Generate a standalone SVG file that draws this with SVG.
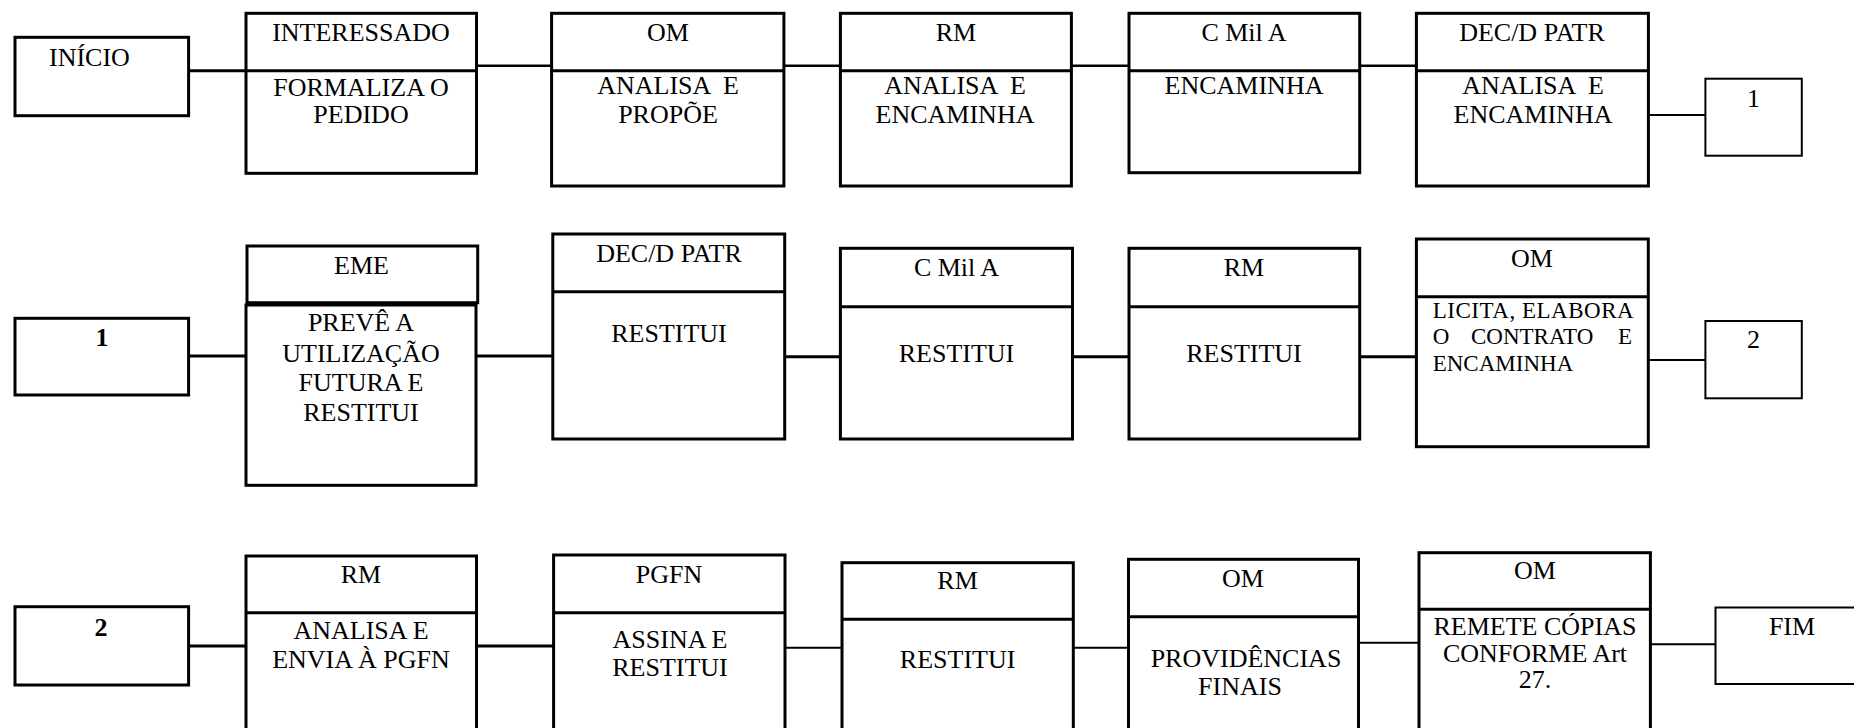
<svg xmlns="http://www.w3.org/2000/svg" width="1854" height="728" viewBox="0 0 1854 728">
<style>
.box{fill:#fff;stroke:#000;stroke-width:3;stroke-linejoin:miter}
.thin{stroke-width:2}
.div{stroke:#000;stroke-width:3;fill:none}
.t{font-family:"Liberation Serif","Times New Roman",serif;font-size:26px;text-anchor:middle;fill:#000;white-space:pre}
.s{font-size:23px;text-anchor:start}
.b{font-weight:bold}
.c path{stroke:#000;fill:none;stroke-width:3}
.c path.n{stroke-width:2}
</style>
<rect width="1854" height="728" fill="#fff"/>
<g class="c" id="connectors">
<path d="M188.6 70.7H246"/>
<path d="M476.5 65.7H551.6" style="stroke-width:2.5"/>
<path d="M783.9 65.7H840.4" style="stroke-width:2.5"/>
<path d="M1071.3 65.7H1129" style="stroke-width:2.5"/>
<path d="M1359.7 65.7H1416.4" style="stroke-width:2.5"/>
<path class="n" d="M1648.3 115H1705.4"/>
<path d="M188.6 356H246"/>
<path d="M477 356H552.8"/>
<path d="M784.7 356.7H840.4"/>
<path d="M1072.5 356.7H1129"/>
<path d="M1359.7 356.7H1416.4"/>
<path class="n" d="M1648.3 360H1705.4"/>
<path d="M188.6 646H246"/>
<path d="M476.5 646H553.6"/>
<path class="n" d="M785 647.7H842"/>
<path class="n" d="M1073.3 647.7H1128.5"/>
<path class="n" d="M1358.5 642.7H1419"/>
<path class="n" d="M1650.4 644.3H1715.5"/>
</g>
<g id="inicio"><rect class="box" x="15" y="37.3" width="173.6" height="78.4"/><text class="t" x="49" y="65.7" style="text-anchor:start">INÍCIO</text></g>
<g id="interessado"><rect class="box" x="246" y="13.3" width="230.5" height="160"/><path class="div" d="M246 70.7H476.5"/>
<text class="t" x="361" y="41">INTERESSADO</text><text class="t" x="361" y="95.7">FORMALIZA O</text><text class="t" x="361" y="123.3">PEDIDO</text></g>
<g id="om1"><rect class="box" x="551.6" y="13.3" width="232.3" height="172.7"/><path class="div" d="M551.6 70.7H783.9"/>
<text class="t" x="668" y="41">OM</text><text class="t" x="668" y="94.3">ANALISA  E</text><text class="t" x="668" y="123.3">PROPÕE</text></g>
<g id="rm1"><rect class="box" x="840.4" y="13.3" width="231" height="172.7"/><path class="div" d="M840.4 70.7H1071.4"/>
<text class="t" x="956" y="41">RM</text><text class="t" x="955" y="94.3">ANALISA  E</text><text class="t" x="955" y="123.3">ENCAMINHA</text></g>
<g id="cmila1"><rect class="box" x="1129" y="13.3" width="230.7" height="159.4"/><path class="div" d="M1129 70.7H1359.7"/>
<text class="t" x="1244" y="41">C Mil A</text><text class="t" x="1244" y="94.3">ENCAMINHA</text></g>
<g id="dec1"><rect class="box" x="1416.4" y="13.3" width="232" height="172.7"/><path class="div" d="M1416.4 70.7H1648.4"/>
<text class="t" x="1532" y="41">DEC/D PATR</text><text class="t" x="1533" y="94.3">ANALISA  E</text><text class="t" x="1533" y="123.3">ENCAMINHA</text></g>
<g id="ref1"><rect class="box thin" x="1705.4" y="78.7" width="96.4" height="77"/><text class="t" x="1753.6" y="106.7">1</text></g>

<g id="c1"><rect class="box" x="15" y="318.3" width="173.6" height="76.7"/><text class="t b" x="102" y="346">1</text></g>
<g id="eme"><rect class="box" x="247" y="246" width="230.7" height="56.7"/><rect class="box" x="246" y="305" width="230" height="180.3"/>
<text class="t" x="361.5" y="274">EME</text><text class="t" x="361" y="331">PREVÊ A</text><text class="t" x="361" y="361.5">UTILIZAÇÃO</text><text class="t" x="361" y="391">FUTURA E</text><text class="t" x="361" y="420.5">RESTITUI</text></g>
<g id="dec2"><rect class="box" x="552.8" y="234" width="231.9" height="205"/><path class="div" d="M552.8 291.7H784.7"/>
<text class="t" x="669" y="261.7">DEC/D PATR</text><text class="t" x="669" y="342.3">RESTITUI</text></g>
<g id="cmila2"><rect class="box" x="840.4" y="248.3" width="232.1" height="190.7"/><path class="div" d="M840.4 306.7H1072.5"/>
<text class="t" x="956.5" y="276">C Mil A</text><text class="t" x="956.5" y="361.7">RESTITUI</text></g>
<g id="rm2"><rect class="box" x="1129" y="248.3" width="230.7" height="190.7"/><path class="div" d="M1129 306.7H1359.7"/>
<text class="t" x="1244" y="276">RM</text><text class="t" x="1244" y="361.7">RESTITUI</text></g>
<g id="om2"><rect class="box" x="1416.4" y="239" width="231.9" height="207.7"/><path class="div" d="M1416.4 296.7H1648.3"/>
<text class="t" x="1532" y="266.7">OM</text>
<text class="t s" x="1432.7" y="317.7" textLength="201" lengthAdjust="spacing">LICITA, ELABORA</text>
<text class="t s" y="344"><tspan x="1432.7">O</tspan><tspan x="1471">CONTRATO</tspan><tspan x="1618">E</tspan></text>
<text class="t s" x="1432.7" y="370.7">ENCAMINHA</text></g>
<g id="ref2"><rect class="box thin" x="1705.4" y="321" width="96.4" height="77.3"/><text class="t" x="1753.6" y="348.3">2</text></g>

<g id="c2"><rect class="box" x="15" y="606.7" width="173.6" height="78.3"/><text class="t b" x="101" y="635.7">2</text></g>
<g id="rm3"><rect class="box" x="246" y="556" width="230.5" height="200"/><path class="div" d="M246 612.7H476.5"/>
<text class="t" x="361" y="583.3">RM</text><text class="t" x="361" y="639">ANALISA E</text><text class="t" x="361" y="668.3">ENVIA À PGFN</text></g>
<g id="pgfn"><rect class="box" x="553.6" y="555" width="231.4" height="200"/><path class="div" d="M553.6 612.7H785"/>
<text class="t" x="669" y="583.3">PGFN</text><text class="t" x="670" y="648.3">ASSINA E</text><text class="t" x="670" y="676">RESTITUI</text></g>
<g id="rm4"><rect class="box" x="842" y="562.7" width="231.3" height="200"/><path class="div" d="M842 619.3H1073.3"/>
<text class="t" x="957.6" y="589.3">RM</text><text class="t" x="957.6" y="667.7">RESTITUI</text></g>
<g id="om3"><rect class="box" x="1128.5" y="559.3" width="230" height="200"/><path class="div" d="M1128.5 616.7H1358.5"/>
<text class="t" x="1243" y="586.7">OM</text><text class="t" x="1246" y="666.7">PROVIDÊNCIAS</text><text class="t" x="1240" y="695">FINAIS</text></g>
<g id="om4"><rect class="box" x="1419" y="552.7" width="231.4" height="200"/><path class="div" d="M1419 609.3H1650.4"/>
<text class="t" x="1535" y="579.3">OM</text><text class="t" x="1535" y="635">REMETE CÓPIAS</text><text class="t" x="1535" y="661.7">CONFORME Art</text><text class="t" x="1535" y="688.3">27.</text></g>
<g id="fim"><rect class="box thin" x="1715.5" y="607.5" width="200" height="76.5"/><text class="t" x="1792" y="635">FIM</text></g>
</svg>
